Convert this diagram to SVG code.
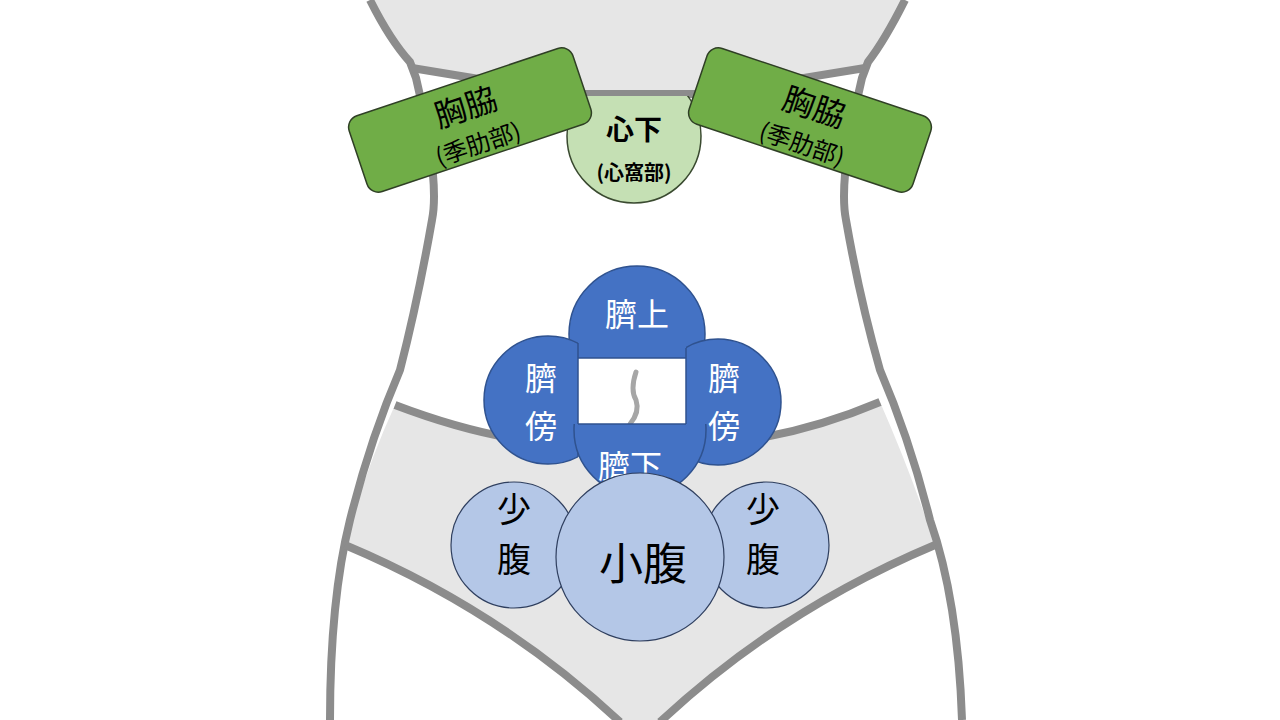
<svg xmlns="http://www.w3.org/2000/svg" width="1280" height="720" viewBox="0 0 1280 720">
<style>
.body{fill:none;stroke:#8c8c8c;stroke-width:8;stroke-linejoin:round}
.g{fill:#70ad47;stroke:#2f3f25;stroke-width:1.5}
.lg{fill:#c5e0b4;stroke:#3a4a30;stroke-width:1.5}
.b{fill:#4472c4;stroke:#2f528f;stroke-width:1.5}
.lb{fill:#b4c7e7;stroke:#2f3f5f;stroke-width:1.2}
text{font-family:"Noto Sans CJK JP","Noto Sans CJK SC",sans-serif;text-anchor:middle}
.w{fill:#fff}
.k{fill:#000}
</style>
<defs>
<clipPath id="cTop"><rect x="0" y="96" width="1280" height="700"/></clipPath>
<clipPath id="cUp"><rect x="0" y="0" width="1280" height="358"/></clipPath>
<clipPath id="cL"><rect x="0" y="0" width="578" height="720"/></clipPath>
<clipPath id="cR"><rect x="686" y="0" width="600" height="720"/></clipPath>
<clipPath id="cDn"><rect x="0" y="424" width="1280" height="300"/></clipPath>
</defs>
<rect width="1280" height="720" fill="#fff"/>
<g id="body">
<path d="M370,0 L905,0 L865,68 L705,94 L570,94 L412,68 Z" fill="#e6e6e6"/>
<path d="M395,405 Q500,445 585,445 L700,445 Q790,440 880,402 Q910,470 935,545 Q780,610 660,722 L620,722 Q500,610 345,545 Q365,470 395,405 Z" fill="#e6e6e6"/>
<path class="body" d="M370,0 Q390,40 410,62 L416,78 Q440,180 432,220 Q418,300 400,370 Q370,440 350,520 Q330,600 330,720"/>
<path class="body" d="M905,0 Q885,40 868,62 L862,78 Q838,180 846,220 Q860,300 880,370 Q910,440 930,520 Q958,600 962,720"/>
<path class="body" d="M412,68 L570,94 L705,94 L865,68"/>
<path class="body" d="M395,405 Q500,445 585,445"/>
<path class="body" d="M700,445 Q790,440 880,402"/>
<path class="body" d="M345,545 Q500,610 620,722"/>
<path class="body" d="M935,545 Q780,610 660,722"/>
</g>
<g id="shinka">
<circle class="lg" cx="634" cy="136" r="67" clip-path="url(#cTop)"/>
<text x="634" y="140" font-size="28" font-weight="bold" class="k">心下</text>
<text x="634" y="180" font-size="20" font-weight="bold" class="k">(心窩部)</text>
</g>
<g id="kyokyo-left" transform="translate(470,120) rotate(-18.5)">
<rect class="g" x="-118" y="-40" width="236" height="80" rx="12"/>
<text x="0" y="-2" font-size="32" class="k">胸脇</text>
<text x="0" y="34" font-size="24" class="k">(季肋部)</text>
</g>
<g id="kyokyo-right" transform="translate(810,120) rotate(18.5)">
<rect class="g" x="-118" y="-40" width="236" height="80" rx="12"/>
<text x="0" y="-2" font-size="32" class="k">胸脇</text>
<text x="0" y="34" font-size="24" class="k">(季肋部)</text>
</g>
<g id="navel">
<rect x="578" y="358" width="108" height="66" fill="#fff"/>
<path d="M636,372 Q630,390 636,400 Q640,412 630,424" fill="none" stroke="#a6a6a6" stroke-width="5" stroke-linecap="round"/>
</g>
<g id="saijo">
<circle class="b" cx="637" cy="334" r="68" clip-path="url(#cUp)"/>
<line x1="569" y1="358" x2="705" y2="358" stroke="#2f528f" stroke-width="1.5"/>
<text x="637" y="326" font-size="32" class="w">臍上</text>
</g>
<g id="saibo-left">
<circle class="b" cx="548" cy="400" r="64" clip-path="url(#cL)"/>
<line x1="578" y1="343" x2="578" y2="457" stroke="#2f528f" stroke-width="1.5"/>
<text x="541" y="390" font-size="32" class="w">臍</text>
<text x="541" y="438" font-size="32" class="w">傍</text>
</g>
<g id="saibo-right">
<circle class="b" cx="718" cy="402" r="63" clip-path="url(#cR)"/>
<line x1="686" y1="348" x2="686" y2="456" stroke="#2f528f" stroke-width="1.5"/>
<text x="724" y="390" font-size="32" class="w">臍</text>
<text x="724" y="438" font-size="32" class="w">傍</text>
</g>
<g id="saika">
<circle class="b" cx="640" cy="430" r="66" clip-path="url(#cDn)"/>
<line x1="578" y1="424" x2="686" y2="424" stroke="#2f528f" stroke-width="1.5"/>
<text x="630" y="478" font-size="32" class="w">臍下</text>
</g>
<g id="shofuku-left">
<circle class="lb" cx="514" cy="545" r="63"/>
<text x="514" y="522" font-size="34" class="k">少</text>
<text x="514" y="572" font-size="34" class="k">腹</text>
</g>
<g id="shofuku-right">
<circle class="lb" cx="766" cy="545" r="63"/>
<text x="763" y="522" font-size="34" class="k">少</text>
<text x="763" y="572" font-size="34" class="k">腹</text>
</g>
<g id="shoufuku">
<circle class="lb" cx="640" cy="557" r="84"/>
<text x="643" y="580" font-size="44" class="k">小腹</text>
</g>
<g id="connectors"/>
</svg>
